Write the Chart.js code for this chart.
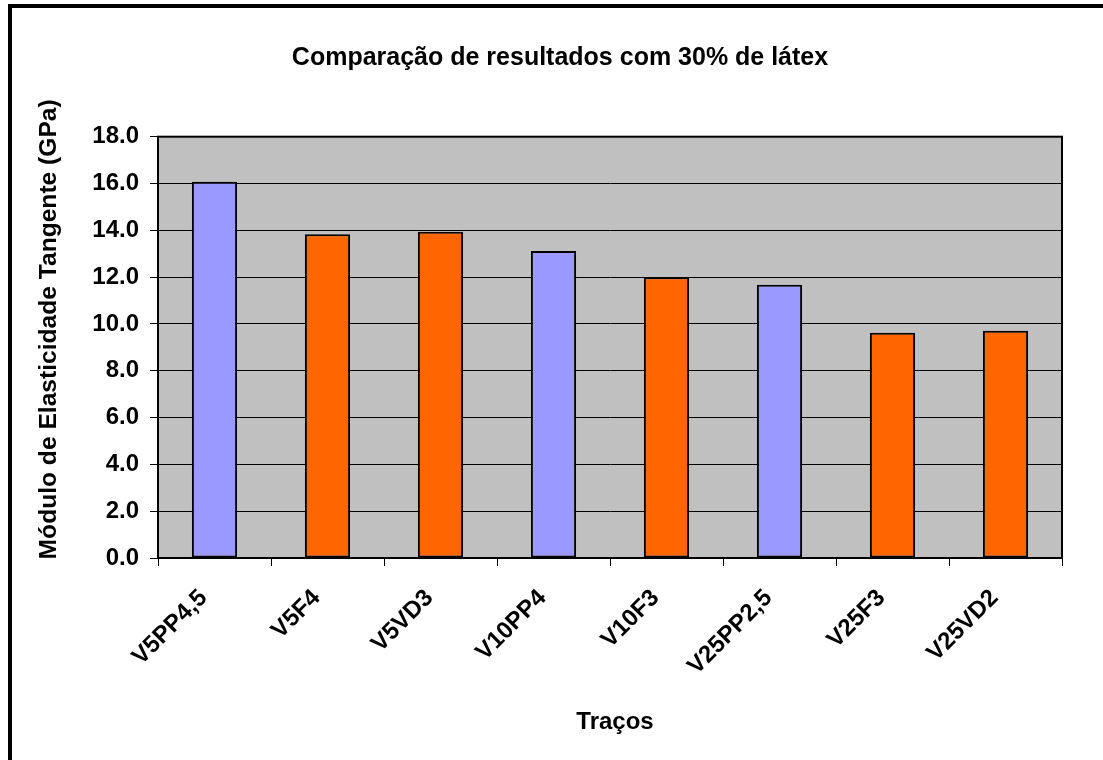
<!DOCTYPE html>
<html>
<head>
<meta charset="utf-8">
<script src="https://cdn.jsdelivr.net/npm/chart.js@4/dist/chart.umd.min.js"></script>
<style>
  html, body { margin: 0; padding: 0; background: #fff; overflow: hidden; }
  #wrap { position: relative; width: 1103px; height: 760px; }
</style>
</head>
<body>
<div id="wrap"><canvas id="c" width="1103" height="760"></canvas></div>
<script>
// Mixes (traços) and their tangent modulus of elasticity, 30% latex
const categories = ['V5PP4,5', 'V5F4', 'V5VD3', 'V10PP4', 'V10F3', 'V25PP2,5', 'V25F3', 'V25VD2'];
const modulusGPa = [16.07, 13.83, 13.94, 13.12, 12.0, 11.67, 9.62, 9.71];
const fiberType = ['PP', 'F', 'VD', 'PP', 'F', 'PP', 'F', 'VD'];
const yTicks = [0, 2, 4, 6, 8, 10, 12, 14, 16, 18];

const titleText = 'Comparação de resultados com 30% de látex';
const yTitleText = 'Módulo de Elasticidade Tangente (GPa)';
const xTitleText = 'Traços';

const FONT = '"Liberation Sans", Arial, sans-serif';
const PP_COLOR = '#9999FF';
const OTHER_COLOR = '#FF6600';
const barColors = fiberType.map(t => t === 'PP' ? PP_COLOR : OTHER_COLOR);

// plot background, outer frame, plot border and the axis titles
const decor = {
  id: 'decor',
  beforeDraw(chart) {
    const { ctx, chartArea: a } = chart;
    ctx.save();
    ctx.fillStyle = '#C0C0C0';
    ctx.fillRect(a.left, a.top, a.right - a.left, a.bottom - a.top);
    ctx.restore();
  },
  afterDraw(chart) {
    const { ctx, chartArea: a } = chart;
    ctx.save();
    // plot border
    ctx.strokeStyle = '#000';
    ctx.lineWidth = 2;
    ctx.strokeRect(a.left, a.top, a.right - a.left, a.bottom - a.top);
    // outer frame
    ctx.fillStyle = '#000';
    ctx.fillRect(8, 4, 4, 760);
    ctx.fillRect(8, 4, 1103, 4);
    // axis titles
    ctx.textAlign = 'center';
    ctx.textBaseline = 'middle';
    ctx.font = 'bold 24px ' + FONT;
    ctx.fillText(xTitleText, (a.left + a.right) / 2 + 5, 722);
    ctx.font = 'bold 24.6px ' + FONT;
    ctx.translate(49, (a.top + a.bottom) / 2 - 18);
    ctx.rotate(-Math.PI / 2);
    ctx.fillText(yTitleText, 0, 0);
    ctx.restore();
  }
};

new Chart(document.getElementById('c'), {
  type: 'bar',
  data: {
    labels: categories,
    datasets: [{
      data: modulusGPa,
      backgroundColor: barColors,
      borderColor: '#000',
      borderWidth: 2,
      borderSkipped: false,
      categoryPercentage: 1.0,
      barPercentage: 0.4
    }]
  },
  options: {
    responsive: false,
    animation: false,
    devicePixelRatio: 1,
    layout: { padding: { left: 58, right: 41, top: 0, bottom: 0 } },
    plugins: {
      legend: { display: false },
      tooltip: { enabled: false },
      title: {
        display: true,
        text: titleText,
        color: '#000',
        font: { family: FONT, size: 25, weight: 'bold', lineHeight: 1.2 },
        padding: { top: 43, bottom: 63.7 }
      }
    },
    scales: {
      x: {
        offset: true,
        grid: {
          offset: true,
          drawOnChartArea: false,
          drawTicks: true,
          tickLength: 8,
          tickColor: '#000',
          lineWidth: 1
        },
        border: { display: true, color: '#000', width: 2 },
        ticks: {
          autoSkip: false,
          minRotation: 45,
          maxRotation: 45,
          color: '#000',
          padding: 18,
          labelOffset: -11,
          font: { family: FONT, size: 24, weight: 'bold' }
        },
        afterFit(scale) { scale.height = 202; }
      },
      y: {
        min: 0,
        max: 18,
        afterBuildTicks(scale) { scale.ticks = yTicks.map(v => ({ value: v })); },
        grid: {
          color: '#000',
          lineWidth: 1,
          tickLength: 8,
          tickColor: '#000'
        },
        border: { display: true, color: '#000', width: 2 },
        ticks: {
          color: '#000',
          padding: 11,
          font: { family: FONT, size: 24, weight: 'bold' },
          callback: v => Number(v).toFixed(1)
        },
        afterFit(scale) { scale.width = 100; }
      }
    }
  },
  plugins: [decor]
});
</script>
</body>
</html>
